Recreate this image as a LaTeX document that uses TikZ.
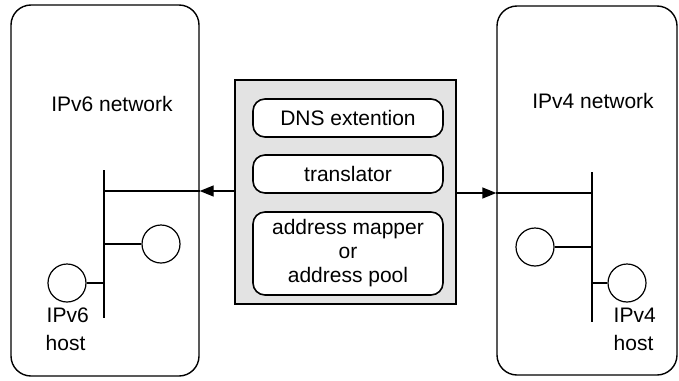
\documentclass[tikz,border=0pt]{standalone}
\usepackage{fontspec}
\setmainfont{Liberation Sans}
\usetikzlibrary{arrows.meta}
\begin{document}
\begin{tikzpicture}[x=1pt,y=-1pt,line width=1.4pt,
  every node/.style={font=\fontsize{21}{25}\selectfont},
  netbox/.style={draw,rounded corners=20pt,inner sep=0pt},
  gwbox/.style={draw,line width=2pt,fill=black!11,inner sep=0pt},
  partbox/.style={draw,line width=1.6pt,fill=white,rounded corners=12pt,inner sep=0pt,
    minimum width=190pt,align=center},
  hostnode/.style={draw,line width=1.2pt,circle,fill=white,inner sep=0pt,minimum size=38pt},
  lbl/.style={inner sep=0pt},
  link/.style={-{Triangle[length=14pt,width=11pt]}}]
\useasboundingbox (0,0) rectangle (679,380);

% the two networks
\node[netbox,minimum width=188pt,minimum height=371pt] (v6net) at (105,190.5) {};
\node[netbox,minimum width=180pt,minimum height=369pt] (v4net) at (587,190.5) {};
\node[lbl] (v6title) at (112,104) {IPv6 network};
\node[lbl] (v4title) at (593,101) {IPv4 network};

% the translating gateway
\node[gwbox,minimum width=221pt,minimum height=224pt] (gw) at (345.5,192) {};
\node[partbox,minimum height=38pt] (dns) at (348,118) {DNS extention};
\node[partbox,minimum height=38pt] (trans) at (348,174) {translator};
\node[partbox,minimum height=83pt] (addr) at (348,253.5)
  {address mapper\\[-1pt]or\\[-1pt]address pool};

% IPv6 side bus and hosts
\coordinate (b6top) at (104,170);
\coordinate (b6bot) at (104,318);
\draw (b6top) -- (b6bot);
\node[hostnode] (h6a) at (161,244) {};
\node[hostnode] (h6b) at (67,283) {};
\draw[line width=1.2pt] (h6a.west) -- (h6a.west -| b6top);
\draw[line width=1.2pt] (h6b.east) -- (h6b.east -| b6top);
\coordinate (a6) at (104,191);
\draw[link] (gw.west |- a6) -- (v6net.east |- a6);
\draw (v6net.east |- a6) -- (a6);
\node[lbl,anchor=west] (h6lbl) at (46,315) {IPv6};
\node[lbl,anchor=west] (h6lbl2) at (45,343) {host};

% IPv4 side bus and hosts
\coordinate (b4top) at (592,172);
\coordinate (b4bot) at (592,322);
\draw (b4top) -- (b4bot);
\node[hostnode] (h4a) at (535,247) {};
\node[hostnode] (h4b) at (627,283) {};
\draw[line width=1.2pt] (h4a.east) -- (h4a.east -| b4top);
\draw[line width=1.2pt] (h4b.west) -- (h4b.west -| b4top);
\coordinate (a4) at (592,193);
\draw[link] (gw.east |- a4) -- (v4net.west |- a4);
\draw (v4net.west |- a4) -- (a4);
\node[lbl,anchor=west] (h4lbl) at (613,315) {IPv4};
\node[lbl,anchor=west] (h4lbl2) at (613,343) {host};
\end{tikzpicture}
\end{document}
